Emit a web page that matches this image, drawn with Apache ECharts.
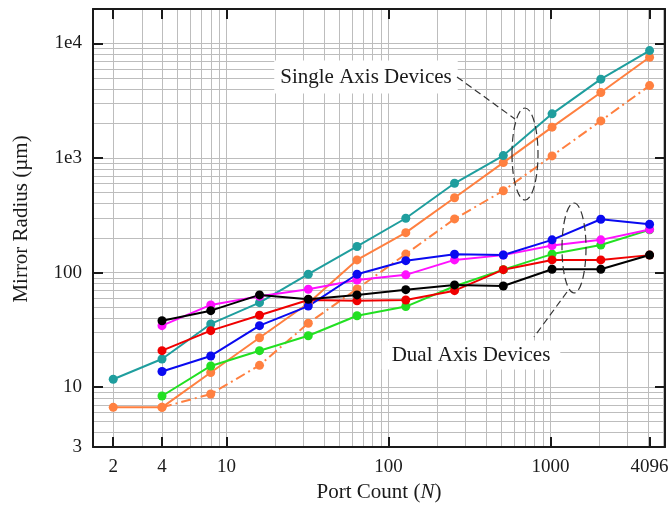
<!DOCTYPE html>
<html>
<head>
<meta charset="utf-8">
<script src="https://cdn.jsdelivr.net/npm/echarts@6/dist/echarts.min.js"></script>
<style>
  html, body { margin: 0; padding: 0; background: #fff; }
  #chart { width: 668px; height: 506px; }
</style>
</head>
<body>
<div id="chart"></div>
<script>
// port count N on x, mirror radius (um) on y, both log scaled
const ports = [2, 4, 8, 16, 32, 64, 128, 256, 512, 1024, 2048, 4096];

// single axis devices
const tealSingle = [11.7, 17.6, 35.6, 54.6, 96.7, 169, 298, 602, 1050, 2430, 4880, 8670];
const orangeSingle = [6.66, 6.66, 13.4, 27, 54, 129, 223, 450, 912, 1860, 3730, 7590];
const orangeDashSingle = [null, 6.66, 8.7, 15.5, 36.1, 72, 145, 294, 518, 1044, 2110, 4290];

// dual axis devices
const blackDual = [null, 38, 46.5, 63.8, 58.5, 63.8, 70.9, 78, 76.4, 107, 107, 142.5];
const magentaDual = [null, 34.4, 52.2, 62, 71.5, 86.2, 95.5, 129, 142, 172, 193, 238];
const redDual = [null, 20.8, 31.1, 42.4, 57.6, 56.7, 57.6, 69.5, 106, 129, 129, 142];
const blueDual = [null, 13.7, 18.7, 34.4, 51, 96.7, 127, 144.6, 142.5, 193, 292, 264];
const greenDual = [null, 8.36, 15.3, 20.8, 28.1, 42, 50.5, 76, 106, 145, 174, 236];

// tick labels
const xTickValues = [2, 4, 10, 100, 1000, 4096];
const yLabelValues = [3, 10, 100, 1000, 10000];
const yTickValues = [10, 100, 1000, 10000];

const xMin = 1.5, xMax = 5100;
const yMin = 3, yMax = 20000;

// log grid lines at 1..9 of every decade inside the range
const logGrid = (lo, hi) => {
  const out = [];
  for (let d = 1; d <= 10000; d *= 10) {
    for (let m = 1; m <= 9; m++) {
      const v = m * d;
      if (v > lo && v < hi) out.push(v);
    }
  }
  return out;
};

const font = '"Liberation Serif", "DejaVu Serif", serif';
const ink = '#1a1a1a';
const tick = { inside: true, length: 10, lineStyle: { color: ink, width: 2 } };
const axisLine = { show: true, lineStyle: { color: ink, width: 2 } };

const pairs = ys => ports.map((x, i) => [x, ys[i]]).filter(p => p[1] != null);

const line = (name, ys, color, type = 'solid') => ({
  name,
  type: 'line',
  data: pairs(ys),
  symbol: 'circle',
  symbolSize: 9,
  color,
  lineStyle: { color, width: 2, type },
  itemStyle: { color },
  z: 3
});

const chart = echarts.init(document.getElementById('chart'));
chart.setOption({
  animation: false,
  backgroundColor: '#fff',
  grid: { left: 93, right: 3, top: 9, bottom: 59, containLabel: false, outerBoundsMode: 'none' },
  xAxis: [
    {
      type: 'log', position: 'bottom', min: xMin, max: xMax,
      axisLine, axisTick: { ...tick, customValues: xTickValues },
      axisLabel: {
        customValues: xTickValues, margin: 11,
        formatter: v => String(Math.round(v)),
        fontFamily: font, fontSize: 19, color: ink
      },
      splitLine: { show: false },
      name: 'Port Count ({i|N})', nameLocation: 'middle', nameGap: 31,
      nameTextStyle: {
        fontFamily: font, fontSize: 21, color: ink,
        rich: { i: { fontFamily: font, fontSize: 21, fontStyle: 'italic', color: ink } }
      }
    },
    {
      type: 'log', position: 'top', min: xMin, max: xMax,
      axisLine, axisTick: { ...tick, customValues: xTickValues },
      axisLabel: { show: false }, splitLine: { show: false }
    },
    {
      type: 'log', position: 'bottom', min: xMin, max: xMax,
      axisLine: { show: false },
      axisTick: { show: false, customValues: logGrid(xMin, xMax) },
      axisLabel: { show: false },
      splitLine: { show: true, lineStyle: { color: '#bdbdbd', width: 1 } }
    }
  ],
  yAxis: [
    {
      type: 'log', position: 'left', min: yMin, max: yMax,
      axisLine, axisTick: { ...tick, customValues: yTickValues },
      axisLabel: {
        customValues: yLabelValues, margin: 11,
        formatter: v => (v >= 1000 ? '1e' + Math.round(Math.log10(v)) : String(Math.round(v))),
        fontFamily: font, fontSize: 19, color: ink
      },
      splitLine: { show: false },
      name: 'Mirror Radius (\u00b5m)', nameLocation: 'middle', nameGap: 61,
      nameTextStyle: { fontFamily: font, fontSize: 21, color: ink, padding: [0, 0, 0, 18] }
    },
    {
      type: 'log', position: 'right', min: yMin, max: yMax,
      axisLine, axisTick: { ...tick, customValues: yTickValues },
      axisLabel: { show: false }, splitLine: { show: false }
    },
    {
      type: 'log', position: 'left', min: yMin, max: yMax,
      axisLine: { show: false },
      axisTick: { show: false, customValues: logGrid(yMin, yMax) },
      axisLabel: { show: false },
      splitLine: { show: true, lineStyle: { color: '#bdbdbd', width: 1 } }
    }
  ],
  series: [
    line('single, dash-dot', orangeDashSingle, '#ff8040', [10, 4, 2, 4]),
    line('single, orange', orangeSingle, '#ff8040'),
    line('single, teal', tealSingle, '#1f9e9e'),
    line('dual, green', greenDual, '#22e022'),
    line('dual, red', redDual, '#f00000'),
    line('dual, magenta', magentaDual, '#ff10ff'),
    line('dual, blue', blueDual, '#0a0af0'),
    line('dual, black', blackDual, '#000000')
  ],
  graphic: [
    // "Single Axis Devices" callout
    {
      type: 'text', z: 1,
      style: {
        text: 'Single Axis Devices', x: 366, y: 77, align: 'center', verticalAlign: 'middle',
        font: '21px ' + font, fill: ink, backgroundColor: '#fff', padding: [6, 6]
      }
    },
    {
      type: 'line', z: 4,
      shape: { x1: 457, y1: 77, x2: 515, y2: 119 },
      style: { stroke: '#333', lineWidth: 1.2, lineDash: [7, 4] }
    },
    {
      type: 'ellipse', z: 4,
      shape: { cx: 525, cy: 154, rx: 13, ry: 46 },
      style: { fill: 'none', stroke: '#333', lineWidth: 1.2, lineDash: [8, 4] }
    },
    // "Dual Axis Devices" callout
    {
      type: 'text', z: 1,
      style: {
        text: 'Dual Axis Devices', x: 471, y: 355, align: 'center', verticalAlign: 'middle',
        font: '21px ' + font, fill: ink, backgroundColor: '#fff', padding: [4, 10]
      }
    },
    {
      type: 'line', z: 4,
      shape: { x1: 567, y1: 292, x2: 534, y2: 337 },
      style: { stroke: '#333', lineWidth: 1.2, lineDash: [7, 4] }
    },
    {
      type: 'ellipse', z: 4,
      shape: { cx: 574, cy: 248, rx: 12, ry: 45 },
      style: { fill: 'none', stroke: '#333', lineWidth: 1.2, lineDash: [8, 4] }
    }
  ]
});
</script>
</body>
</html>
